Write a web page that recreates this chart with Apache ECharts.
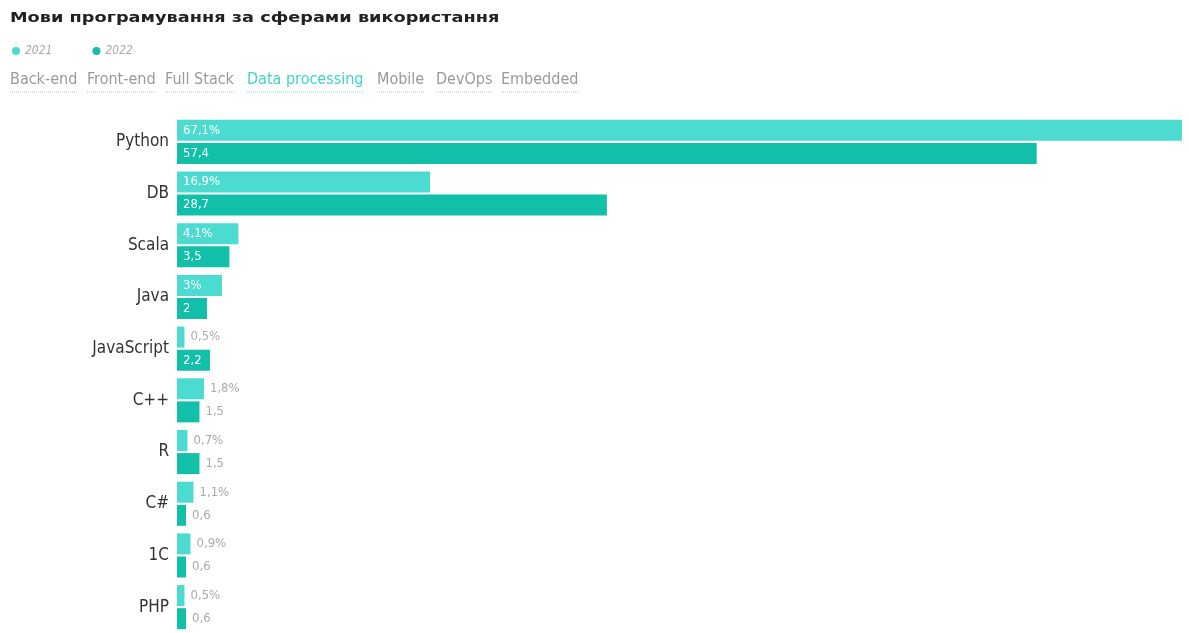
<!DOCTYPE html>
<html>
<head>
<meta charset="utf-8">
<script src="https://cdn.jsdelivr.net/npm/echarts@6/dist/echarts.min.js"></script>
<style>
html,body{margin:0;padding:0;background:#fff;}
#chart{width:1189px;height:633px;}
</style>
</head>
<body>
<div id="chart"></div>
<script>
const categories = ['Python', 'DB', 'Scala', 'Java', 'JavaScript', 'C++', 'R', 'C#', '1C', 'PHP'];
const values2021 = [67.1, 16.9, 4.1, 3, 0.5, 1.8, 0.7, 1.1, 0.9, 0.5];
const values2022 = [57.4, 28.7, 3.5, 2, 2.2, 1.5, 1.5, 0.6, 0.6, 0.6];
const seriesNames = ['2021', '2022'];
const tabs = ['Back-end', 'Front-end', 'Full Stack', 'Data processing', 'Mobile', 'DevOps', 'Embedded'];
const activeTab = 'Data processing';
const titleText = 'Мови програмування за сферами використання';

const FONT = '"DejaVu Sans Condensed", "Liberation Sans Narrow", sans-serif';
const colors = ['#4cdbd0', '#12bfa9'];
const tabX = [10, 87, 165, 247, 377, 436, 501];
const tabFont = '16px ' + FONT;

function fmt(v, pct) {
  return String(v).replace('.', ',') + (pct ? '%' : '');
}
function buildData(vals, pct) {
  return vals.map(v => {
    const inside = v >= 2;
    return {
      value: v,
      label: {
        show: true,
        position: inside ? 'insideLeft' : 'right',
        distance: 6,
        color: inside ? '#ffffff' : '#aaaaaa',
        fontFamily: FONT,
        fontSize: 13,
        formatter: fmt(v, pct)
      }
    };
  });
}

const measureCtx = document.createElement('canvas').getContext('2d');
measureCtx.font = tabFont;

const graphics = [{
  type: 'text',
  left: 10,
  top: 11,
  scaleX: 1.265,
  style: {
    text: titleText,
    fill: '#222',
    font: 'bold 14px "DejaVu Sans", sans-serif'
  }
}];
tabs.forEach((t, i) => {
  const active = t === activeTab;
  const w = measureCtx.measureText(t).width;
  graphics.push({
    type: 'text',
    left: tabX[i],
    top: 72,
    style: { text: t, fill: active ? '#3dd6c6' : '#999999', font: tabFont }
  });
  graphics.push({
    type: 'line',
    shape: { x1: tabX[i], y1: 92, x2: tabX[i] + w, y2: 92 },
    style: { stroke: active ? '#7fe3d8' : '#bbbbbb', lineWidth: 1, lineDash: [1, 1] }
  });
});

const chart = echarts.init(document.getElementById('chart'));
chart.setOption({
  animation: false,
  legend: {
    data: seriesNames,
    left: 7,
    top: 40,
    icon: 'circle',
    itemWidth: 8,
    itemHeight: 8,
    itemGap: 40,
    textStyle: { fontFamily: FONT, fontStyle: 'italic', fontSize: 12, color: '#aaaaaa' }
  },
  graphic: graphics,
  grid: { left: 177, top: 116, height: 521, width: 1005, containLabel: false },
  xAxis: { type: 'value', min: 0, max: 'dataMax', show: false },
  yAxis: {
    type: 'category',
    data: categories,
    inverse: true,
    axisLine: { show: false },
    axisTick: { show: false },
    axisLabel: { color: '#333', fontFamily: FONT, fontSize: 17, margin: 8 }
  },
  series: [
    {
      name: seriesNames[0],
      type: 'bar',
      data: buildData(values2021, true),
      itemStyle: { color: colors[0] },
      barWidth: 21,
      barGap: '10%'
    },
    {
      name: seriesNames[1],
      type: 'bar',
      data: buildData(values2022, false),
      itemStyle: { color: colors[1] },
      barWidth: 21,
      barGap: '10%'
    }
  ]
});
</script>
</body>
</html>
